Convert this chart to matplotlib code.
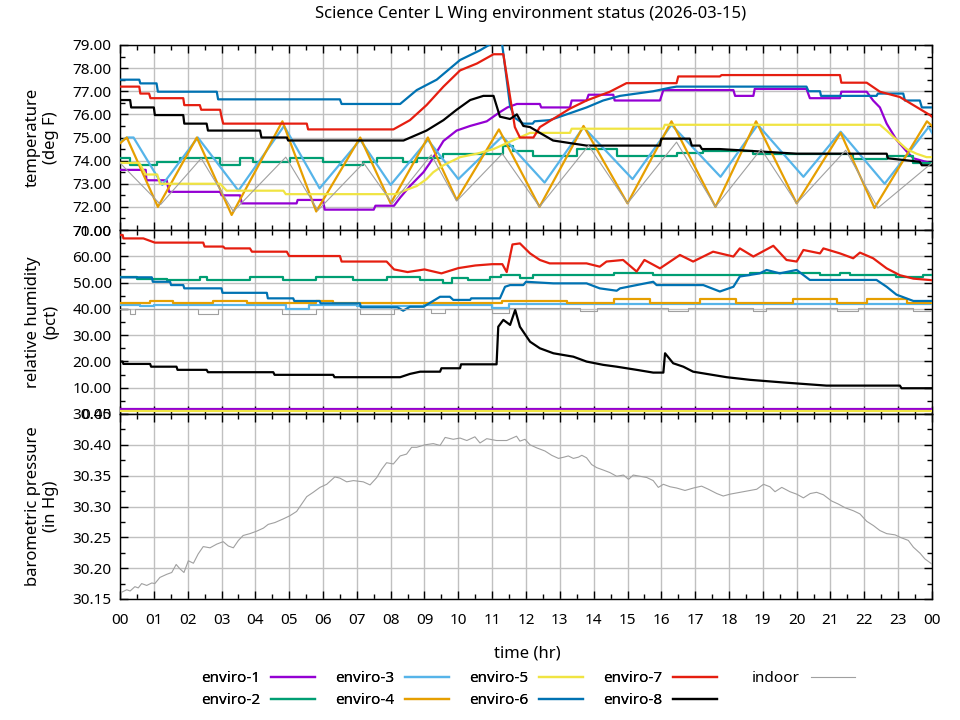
import matplotlib
matplotlib.use('Agg')
import matplotlib.pyplot as plt
from matplotlib.ticker import MultipleLocator, FuncFormatter

plt.rcParams['font.family'] = ['Noto Sans', 'DejaVu Sans']

TITLE = "Science Center L Wing environment status (2026-03-15)"
SERIES = ["enviro-1", "enviro-2", "enviro-3", "enviro-4", "enviro-5",
          "enviro-6", "enviro-7", "enviro-8", "indoor"]
COLORS = ["#9400d3", "#009e73", "#56b4e9", "#e69f00", "#f0e442",
          "#0072b2", "#e51e10", "#000000", "#a0a0a0"]

# ---------------- temperature (hr, deg F) ----------------
temp_e1 = [(0,73.6),(0.76,73.6),(0.78,73.15),(1.38,73.15),(1.45,72.65),(2.96,72.65),(3.0,72.5),(3.55,72.5),
           (3.6,72.15),(5.22,72.15),(5.25,72.3),(6.0,72.3),(6.05,71.88),(7.5,71.88),(7.55,72.05),(8.1,72.05),
           (8.28,72.4),(8.57,72.9),(8.97,73.5),(9.16,73.9),(9.56,74.85),(9.95,75.3),(10.35,75.5),(10.84,75.7),
           (11.23,76.1),(11.45,76.3),(11.73,76.45),(12.41,76.45),(12.45,76.3),(13.3,76.3),(13.35,76.6),(13.79,76.6),
           (13.85,76.85),(14.58,76.85),(14.62,76.6),(15.96,76.6),(16.06,77.05),(18.13,77.05),(18.18,76.8),(18.72,76.8),
           (18.76,77.1),(20.29,77.1),(20.39,76.7),(21.28,76.7),(21.32,76.98),(22.07,76.98),(22.26,76.6),(22.46,76.3),
           (22.66,75.6),(22.95,74.9),(23.25,74.4),(23.45,74.1),(23.94,73.9),(24,73.9)]
temp_e2_steps = [(0,74.1),(0.3,73.8),(1.08,73.95),(1.77,74.1),(2.96,73.8),(3.55,74.1),(3.94,73.95),(5.03,74.1),
                 (6.01,73.95),(6.5,73.8),(7.19,73.95),(7.59,74.1),(8.37,73.95),(8.77,74.1),(9.56,74.3),(11.33,74.65),
                 (11.63,74.4),(12.22,74.2),(13.5,74.5),(14.68,74.2),(16.45,74.35),(17.24,74.4),(18.72,74.3),
                 (21.67,74.05),(22.66,74.2),(23.45,73.9),(24,73.9)]
temp_e3 = [(0,74.8),(0.2,75.0),(0.4,75.0),(1.25,72.95),(2.3,75.0),(3.5,72.7),(4.85,75.5),(5.9,72.8),(7.1,74.9),
           (8.0,72.95),(9.1,74.9),(10.0,73.2),(11.3,75.05),(12.55,73.05),(13.7,75.45),(15.15,73.2),(16.3,75.55),
           (17.75,73.3),(18.85,75.55),(20.2,73.3),(21.3,75.25),(22.6,73.0),(23.9,75.45),(24,75.2)]
temp_e4 = [(0,74.75),(0.2,75.0),(1.12,72.0),(2.27,75.0),(3.3,71.65),(4.8,75.7),(5.8,71.8),(7.1,75.0),(8.0,72.15),
           (9.1,75.0),(9.95,72.3),(11.2,75.35),(12.4,72.0),(13.7,75.5),(15.0,72.15),(16.3,75.7),(17.6,72.0),
           (18.8,75.7),(20.0,72.15),(21.3,75.2),(22.3,71.95),(23.85,75.7),(24,75.5)]
temp_e5 = [(0,73.9),(0.57,73.9),(0.76,73.4),(1.1,73.4),(1.18,73.0),(2.96,73.0),(3.15,72.7),(4.83,72.7),(4.9,72.55),
           (8.18,72.55),(8.4,72.7),(8.77,72.9),(9.06,73.2),(9.26,73.5),(9.56,73.8),(10.05,74.15),(10.55,74.3),
           (11.04,74.5),(11.73,74.95),(12.12,75.2),(13.3,75.2),(13.35,75.38),(16.06,75.38),(16.1,75.55),
           (22.46,75.55),(22.66,75.3),(22.95,74.9),(23.25,74.5),(23.54,74.3),(23.84,74.15),(24,74.15)]
temp_e6 = [(0,77.5),(0.57,77.5),(0.6,77.34),(1.08,77.34),(1.12,76.98),(2.86,76.98),(2.9,76.65),(6.5,76.65),
           (6.55,76.45),(8.28,76.45),(8.77,77.05),(9.36,77.5),(10.05,78.35),(10.64,78.77),(11.14,79.2),(11.28,79.2),
           (11.43,77.5),(11.53,76.35),(11.67,75.85),(11.92,75.6),(12.2,75.6),(12.25,75.7),(12.7,75.75),(13.3,76.05),
           (13.79,76.3),(14.28,76.6),(14.78,76.8),(15.76,77.0),(16.25,77.15),(16.45,77.2),(20.29,77.2),(20.35,77.0),
           (20.69,77.0),(20.72,76.8),(22.36,76.8),(22.4,76.9),(23.15,76.9),(23.2,76.6),(23.64,76.6),(23.7,76.3),(24,76.3)]
temp_e7 = [(0,77.2),(0.57,77.2),(0.6,76.9),(0.86,76.9),(0.9,76.7),(1.87,76.7),(1.9,76.4),(2.36,76.4),(2.4,76.2),
           (2.96,76.2),(3.0,75.9),(3.05,75.6),(5.52,75.6),(5.56,75.35),(8.08,75.35),(8.57,75.75),(9.06,76.4),
           (9.56,77.2),(10.05,77.9),(10.55,78.2),(11.04,78.6),(11.33,78.6),(11.53,76.75),(11.67,75.45),(11.82,75.0),
           (12.22,75.0),(12.41,75.45),(12.8,75.8),(13.3,76.25),(13.79,76.6),(14.48,76.98),(14.97,77.35),(16.45,77.35),
           (16.5,77.64),(17.73,77.64),(17.78,77.7),(21.28,77.7),(21.32,77.37),(22.07,77.37),(22.46,76.98),
           (23.05,76.75),(23.45,76.4),(23.94,75.97),(24,75.9)]
temp_e8 = [(0,76.62),(0.3,76.62),(0.33,76.3),(1.0,76.3),(1.03,75.97),(1.87,75.97),(1.9,75.6),(2.56,75.6),(2.6,75.3),
           (4.14,75.3),(4.18,75.0),(4.93,75.0),(4.97,74.87),(8.38,74.87),(9.06,75.3),(9.56,75.75),(9.95,76.2),
           (10.35,76.62),(10.74,76.8),(11.04,76.8),(11.23,75.9),(11.53,75.8),(11.73,76.0),(11.92,75.5),(12.12,75.45),
           (12.41,75.2),(12.8,74.87),(13.79,74.65),(15.96,74.65),(16.0,74.95),(16.84,74.95),(16.9,74.65),(17.14,74.65),
           (17.2,74.5),(17.73,74.5),(20.0,74.3),(22.66,74.3),(22.7,74.1),(23.64,73.95),(23.7,73.8),(24,73.8)]
temp_indoor = [(0,73.9),(1.2,72.1),(2.4,74.1),(3.35,71.8),(4.9,74.15),(5.85,71.85),(7.2,73.9),(8.05,72.15),
               (9.2,74.25),(9.95,72.25),(11.3,74.3),(12.4,72.0),(13.85,74.65),(15.0,72.15),(16.45,74.8),(17.6,72.0),
               (18.95,74.5),(20.0,72.15),(21.45,74.45),(22.4,71.95),(24,73.9)]

# ---------------- relative humidity (hr, pct) ----------------
rh_e1 = [(0,2.0),(24,2.0)]
rh_e2_steps = [(0,52.0),(0.49,51.3),(1.38,51.0),(2.36,52.0),(2.56,51.0),(3.84,52.0),(4.83,51.0),(5.8,52.0),
               (6.9,51.0),(7.88,52.0),(8.87,51.0),(9.56,50.0),(9.8,51.6),(10.3,51.0),(10.95,52.0),(11.25,52.9),
               (11.82,51.6),(12.2,52.9),(14.6,53.8),(15.76,52.9),(18.62,53.8),(20.69,52.9),(21.28,53.8),
               (21.58,52.9),(22.95,52.0),(23.74,52.9),(24,52.9)]
rh_e3_steps = [(0,41.5),(0.6,41.0),(1.0,41.5),(4.9,40.0),(5.6,41.5),(7.0,41.0),(9.0,41.5),(11.0,40.5),
               (11.5,41.7),(24,41.7)]
rh_e4_steps = [(0,42.1),(0.89,43.0),(1.58,42.1),(2.76,43.0),(3.74,42.1),(5.8,43.0),(6.3,42.1),(11.3,43.0),
               (13.2,42.1),(14.6,43.8),(15.66,42.1),(17.14,43.8),(18.22,42.1),(19.9,43.8),(21.18,42.1),
               (22.07,43.8),(23.25,42.1),(24,42.1)]
rh_e5 = [(0,1.0),(24,1.0)]
rh_e6 = [(0,52.0),(0.94,52.0),(0.97,50.3),(1.48,50.3),(1.51,49.05),(1.87,49.05),(1.9,47.8),(3.0,47.8),(3.03,46.1),
         (4.34,46.1),(4.37,44.0),(5.12,44.0),(5.15,43.0),(5.9,43.0),(5.93,42.1),(7.09,42.1),(7.12,40.6),(8.2,40.6),
         (8.37,39.3),(8.57,40.8),(8.97,40.8),(9.46,44.6),(9.75,44.6),(9.85,43.4),(10.35,43.4),(10.38,44.0),
         (11.23,44.0),(11.38,48.4),(11.53,49.05),(11.92,49.05),(12.0,50.3),(12.81,49.7),(13.79,49.7),(14.18,47.8),
         (14.68,46.9),(14.78,47.8),(15.76,50.3),(15.86,49.05),(17.24,49.05),(17.73,46.6),(18.13,48.4),(18.32,52.3),
         (18.91,53.5),(19.11,54.8),(19.5,53.5),(20.0,54.8),(20.39,51.0),(22.36,51.0),(22.66,48.4),(22.95,45.4),
         (23.45,43.0),(24,43.0)]
rh_e7 = [(0,68.1),(0.08,68.1),(0.1,66.8),(0.69,66.8),(1.03,65.2),(2.46,65.2),(2.5,63.7),(3.05,63.7),(3.1,63.0),
         (3.84,63.0),(3.9,61.75),(4.93,61.75),(5.0,60.1),(6.5,60.1),(6.55,58.0),(7.88,58.0),(8.1,55.0),(8.5,54.0),
         (9.0,55.0),(9.5,53.5),(10.0,55.5),(10.5,56.5),(11.0,57.0),(11.3,57.0),(11.43,54.0),(11.6,64.5),
         (11.82,64.9),(12.12,61.1),(12.41,58.6),(12.7,57.3),(13.79,57.3),(14.18,56.05),(14.38,58.0),(14.87,58.6),
         (15.27,54.2),(15.5,58.6),(15.96,55.4),(16.55,60.5),(16.94,58.0),(17.53,61.75),(18.13,59.9),(18.32,63.0),
         (18.72,59.9),(19.31,64.0),(19.7,58.6),(20.0,58.0),(20.2,62.4),(20.69,61.1),(20.79,63.0),(21.28,61.1),
         (21.67,59.25),(21.87,61.4),(22.26,59.25),(22.66,55.4),(23.05,52.8),(23.45,51.5),(24,50.9)]
rh_e8 = [(0,19.95),(0.08,19.95),(0.1,19.05),(0.89,19.05),(0.92,18.0),(1.67,18.0),(1.7,16.8),(2.56,16.8),(2.6,15.9),
         (4.53,15.9),(4.57,14.9),(6.3,14.9),(6.34,14.0),(8.28,14.0),(8.57,15.25),(8.87,16.1),(9.46,16.1),(9.5,17.4),
         (10.05,17.4),(10.08,18.9),(11.13,18.9),(11.18,33.2),(11.33,35.8),(11.53,33.9),(11.68,39.6),(11.82,33.2),
         (12.12,27.5),(12.41,25.0),(12.81,23.1),(13.4,21.8),(13.79,19.95),(14.28,18.7),(14.68,18.0),(15.27,16.8),
         (15.76,15.75),(16.06,15.75),(16.11,23.1),(16.35,19.3),(16.65,18.0),(16.94,16.1),(17.34,15.25),(17.93,14.0),
         (18.62,13.0),(19.6,12.0),(20.88,10.8),(23.05,10.8),(23.1,9.8),(24,9.8)]
rh_indoor_steps = [(0,39.8),(0.3,38.0),(0.45,39.8),(2.3,38.0),(2.9,39.8),(4.8,38.0),(5.8,39.8),(7.1,38.0),
                   (8.1,39.8),(9.2,38.5),(9.6,39.8),(11.0,38.5),(11.5,40.5),(13.6,39.0),(14.1,40.5),(16.2,39.0),
                   (16.8,40.5),(18.7,39.0),(19.1,40.5),(21.2,39.0),(21.8,40.5),(23.45,39.0),(24,39.0)]

# ---------------- barometric pressure (hr, in Hg) ----------------
press_indoor = [(0.05,30.161),(0.2,30.165),(0.3,30.163),(0.44,30.170),(0.54,30.168),(0.64,30.175),(0.79,30.172),
                (0.94,30.176),(1.03,30.175),(1.18,30.185),(1.38,30.190),(1.53,30.193),(1.66,30.206),(1.77,30.199),
                (1.89,30.193),(2.02,30.212),(2.17,30.208),(2.31,30.223),(2.46,30.235),(2.66,30.233),(2.86,30.239),
                (3.05,30.243),(3.2,30.236),(3.35,30.233),(3.5,30.245),(3.64,30.253),(3.84,30.256),(4.04,30.260),
                (4.24,30.265),(4.38,30.271),(4.58,30.274),(4.83,30.280),(5.02,30.285),(5.22,30.292),(5.37,30.304),
                (5.52,30.316),(5.71,30.323),(5.91,30.331),(6.11,30.336),(6.35,30.348),(6.5,30.346),(6.7,30.340),
                (6.9,30.342),(7.19,30.340),(7.39,30.335),(7.59,30.347),(7.73,30.360),(7.88,30.371),(8.08,30.369),
                (8.28,30.382),(8.47,30.385),(8.62,30.396),(8.77,30.396),(9.01,30.400),(9.26,30.402),(9.46,30.399),
                (9.61,30.412),(9.85,30.409),(10.05,30.411),(10.25,30.407),(10.49,30.413),(10.64,30.403),
                (10.84,30.410),(11.13,30.407),(11.43,30.407),(11.72,30.414),(11.82,30.406),(11.97,30.409),
                (12.12,30.400),(12.32,30.395),(12.56,30.390),(12.76,30.383),(12.96,30.378),(13.12,30.380),
                (13.25,30.382),(13.4,30.378),(13.55,30.380),(13.65,30.383),(13.79,30.379),(13.94,30.368),
                (14.09,30.363),(14.29,30.359),(14.48,30.355),(14.68,30.349),(14.88,30.351),(15.03,30.344),
                (15.17,30.351),(15.37,30.349),(15.57,30.347),(15.76,30.342),(15.91,30.331),(16.06,30.336),
                (16.26,30.332),(16.45,30.330),(16.7,30.326),(16.95,30.330),(17.19,30.333),(17.39,30.328),
                (17.64,30.321),(17.83,30.317),(18.03,30.320),(18.33,30.323),(18.62,30.326),(18.82,30.328),
                (19.02,30.336),(19.21,30.332),(19.36,30.324),(19.56,30.331),(19.8,30.324),(20.0,30.320),
                (20.2,30.314),(20.4,30.321),(20.59,30.323),(20.79,30.319),(21.03,30.309),(21.23,30.304),
                (21.43,30.298),(21.68,30.293),(21.87,30.288),(22.07,30.276),(22.27,30.269),(22.46,30.261),
                (22.66,30.256),(22.91,30.254),(23.06,30.250),(23.3,30.245),(23.45,30.234),(23.65,30.224),
                (23.79,30.215),(23.99,30.207)]

TEMP = [temp_e1, temp_e2_steps, temp_e3, temp_e4, temp_e5, temp_e6, temp_e7, temp_e8, temp_indoor]
RH = [rh_e1, rh_e2_steps, rh_e3_steps, rh_e4_steps, rh_e5, rh_e6, rh_e7, rh_e8, rh_indoor_steps]
STEP_SERIES = [temp_e2_steps, rh_e2_steps, rh_e3_steps, rh_e4_steps, rh_indoor_steps]

fig = plt.figure(figsize=(9.6, 7.2), dpi=100)
L, R = 120/960, 932/960
ax_t = fig.add_axes([L, 1-230/720, R-L, 185/720])
ax_h = fig.add_axes([L, 1-414/720, R-L, 184/720])
ax_p = fig.add_axes([L, 1-599/720, R-L, 185/720])

def unzip(pairs):
    return [p[0] for p in pairs], [p[1] for p in pairs]

def draw(ax, data, name, color):
    x, y = unzip(data)
    lw = 0.8 if name == "indoor" else 1.6
    ds = 'steps-post' if any(data is s for s in STEP_SERIES) else 'default'
    return ax.plot(x, y, color=color, lw=lw, drawstyle=ds, label=name, zorder=3)[0]

handles = []
for name, col, d in zip(SERIES, COLORS, TEMP):
    handles.append(draw(ax_t, d, name, col))
for name, col, d in zip(SERIES, COLORS, RH):
    draw(ax_h, d, name, col)
px, py = unzip(press_indoor)
ax_p.plot(px, py, color=COLORS[-1], lw=0.8, zorder=3)

ax_t.set_ylim(71, 79)
ax_t.yaxis.set_major_locator(MultipleLocator(1))
ax_t.yaxis.set_minor_locator(MultipleLocator(0.5))
ax_h.set_ylim(0, 70)
ax_h.yaxis.set_major_locator(MultipleLocator(10))
ax_h.yaxis.set_minor_locator(MultipleLocator(5))
ax_p.set_ylim(30.15, 30.45)
ax_p.yaxis.set_major_locator(MultipleLocator(0.05))
ax_p.yaxis.set_minor_locator(MultipleLocator(0.025))

for ax in (ax_t, ax_h, ax_p):
    ax.set_xlim(0, 24)
    ax.xaxis.set_major_locator(MultipleLocator(1))
    ax.xaxis.set_minor_locator(MultipleLocator(0.5))
    ax.yaxis.set_major_formatter(FuncFormatter(lambda v, p: "%.2f" % v))
    ax.grid(True, which='major', color='#c0c0c0', lw=1.0, zorder=0)
    ax.set_axisbelow(True)
    ax.tick_params(which='both', direction='in', top=True, right=True, width=1, labelsize=11, pad=6)
    ax.tick_params(which='major', length=6)
    ax.tick_params(which='minor', length=3.5)
    for s in ax.spines.values():
        s.set_linewidth(1.0)

ax_t.tick_params(labelbottom=False)
ax_h.tick_params(labelbottom=False)
ax_p.xaxis.set_major_formatter(FuncFormatter(lambda v, p: "%02d" % (int(round(v)) % 24)))
ax_p.tick_params(axis='x', pad=10)

ax_t.set_ylabel("temperature\n(deg F)", fontsize=12)
ax_h.set_ylabel("relative humidity\n(pct)", fontsize=12)
ax_p.set_ylabel("barometric pressure\n(in Hg)", fontsize=12)
for ax in (ax_t, ax_h, ax_p):
    ax.yaxis.label.set_va('center')
    ax.yaxis.set_label_coords(-0.096, 0.5)

fig.text(531/960, 1-14/720, TITLE, ha='center', va='center', fontsize=12)
fig.text(527/960, 1-653/720, "time (hr)", ha='center', va='center', fontsize=12)

leg_kw = dict(frameon=False, markerfirst=False, fontsize=11, handlelength=2.9, handletextpad=0.7,
              columnspacing=1.3, labelspacing=0.45, borderaxespad=0, borderpad=0)
leg1 = fig.legend(handles[:8], SERIES[:8], loc='upper left', bbox_to_anchor=(201/960, 1-671/720),
                  ncol=4, **leg_kw)
fig.add_artist(leg1)
fig.legend(handles[8:], SERIES[8:], loc='upper left', bbox_to_anchor=(752/960, 1-671/720),
           ncol=1, **leg_kw)

fig.savefig("out.png", dpi=100)
